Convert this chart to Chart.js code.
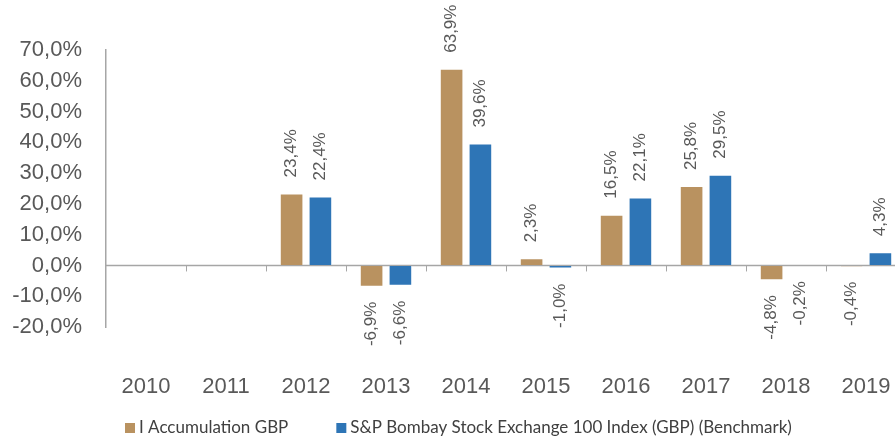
<!DOCTYPE html>
<html>
<head>
<meta charset="utf-8">
<script src="https://cdn.jsdelivr.net/npm/chart.js@4.4.0/dist/chart.umd.min.js"></script>
<style>
  html, body { margin: 0; padding: 0; background: #fff; overflow: hidden; }
  #wrap { position: relative; width: 910px; height: 439px; }
</style>
</head>
<body>
<div id="wrap"><canvas id="chart" width="910" height="439"></canvas></div>
<script>
// Data
const years = ["2010", "2011", "2012", "2013", "2014", "2015", "2016", "2017", "2018", "2019"];
const fundReturns = [null, null, 23.4, -6.9, 63.9, 2.3, 16.5, 25.8, -4.8, -0.4];
const benchReturns = [null, null, 22.4, -6.6, 39.6, -1.0, 22.1, 29.5, -0.2, 4.3];
const seriesNames = ["I Accumulation GBP", "S&P Bombay Stock Exchange 100 Index (GBP) (Benchmark)"];

const TAN = "#B99260";
const BLUE = "#2E75B6";
const GREY_TEXT = "#595959";
const AXIS = "#A6A6A6";

function pct(v) {
  return v.toFixed(1).replace(".", ",") + "%";
}

// zero line, small ticks between categories, rotated value labels, legend
const decorations = {
  id: "decorations",
  beforeDatasetsDraw(chart) {
    const { ctx, chartArea, scales } = chart;
    const y0 = scales.y.getPixelForValue(0);
    ctx.save();
    ctx.strokeStyle = AXIS;
    ctx.lineWidth = 1.5;
    ctx.beginPath();
    ctx.moveTo(chartArea.left, y0);
    ctx.lineTo(chartArea.right, y0);
    ctx.stroke();
    ctx.lineWidth = 1;
    for (let i = 1; i < years.length; i++) {
      const x = Math.round((scales.x.getPixelForValue(i - 1) + scales.x.getPixelForValue(i)) / 2) + 0.5;
      ctx.beginPath();
      ctx.moveTo(x, y0);
      ctx.lineTo(x, y0 + 6);
      ctx.stroke();
    }
    ctx.restore();
  },
  afterDatasetsDraw(chart) {
    const { ctx } = chart;
    ctx.save();
    ctx.font = "17px 'Liberation Sans', Arial, sans-serif";
    ctx.fillStyle = GREY_TEXT;
    ctx.textBaseline = "middle";
    chart.data.datasets.forEach((ds, di) => {
      chart.getDatasetMeta(di).data.forEach((bar, i) => {
        const v = ds.data[i];
        if (v === null || v === undefined) return;
        ctx.save();
        if (v >= 0) {
          ctx.translate(bar.x, bar.y - 16);
          ctx.rotate(-Math.PI / 2);
          ctx.textAlign = "left";
        } else {
          ctx.translate(bar.x, bar.y + 15);
          ctx.rotate(-Math.PI / 2);
          ctx.textAlign = "right";
        }
        ctx.fillText(pct(v), 0, 0);
        ctx.restore();
      });
    });
    ctx.restore();
  },
  afterDraw(chart) {
    // legend row under the axis labels
    const { ctx } = chart;
    ctx.save();
    ctx.font = "17px Lato, 'Open Sans', sans-serif";
    ctx.textBaseline = "middle";
    let x = 125;
    const y = 428;
    chart.data.datasets.forEach((ds) => {
      ctx.fillStyle = ds.backgroundColor;
      ctx.fillRect(x, y - 5, 10, 10);
      x += 14;
      ctx.fillStyle = "#404040";
      ctx.fillText(ds.label, x, y);
      x += ctx.measureText(ds.label).width + 48;
    });
    ctx.restore();
  },
};

const chart = new Chart(document.getElementById("chart"), {
  type: "bar",
  data: {
    labels: years,
    datasets: [
      {
        label: seriesNames[0],
        data: fundReturns,
        backgroundColor: TAN,
        borderColor: "rgba(255,255,255,0.55)",
        borderWidth: 1,
        categoryPercentage: 0.72,
        barPercentage: 0.82,
      },
      {
        label: seriesNames[1],
        data: benchReturns,
        backgroundColor: BLUE,
        borderColor: "rgba(255,255,255,0.55)",
        borderWidth: 1,
        categoryPercentage: 0.72,
        barPercentage: 0.82,
      },
    ],
  },
  options: {
    responsive: false,
    animation: false,
    layout: { padding: { top: 50, left: 0, right: 4, bottom: 40 } },
    plugins: {
      tooltip: { enabled: false },
      legend: { display: false },
    },
    scales: {
      x: {
        grid: { display: false },
        border: { display: false },
        ticks: {
          padding: 39,
          color: GREY_TEXT,
          font: { family: "'Liberation Sans', Arial, sans-serif", size: 22 },
          maxRotation: 0,
          autoSkip: false,
        },
        afterFit: (s) => {
          s.height = 72;
          s.paddingLeft = 0;
          s.paddingRight = 0;
        },
      },
      y: {
        min: -20,
        max: 70,
        ticks: {
          stepSize: 10,
          padding: 24,
          autoSkip: false,
          color: GREY_TEXT,
          font: { family: "'Liberation Sans', Arial, sans-serif", size: 22 },
          callback: (v) => pct(v),
        },
        grid: { drawOnChartArea: false, drawTicks: false },
        border: { color: AXIS, width: 1.5 },
        afterFit: (s) => { s.width = 106; },
      },
    },
  },
  plugins: [decorations],
});
</script>
</body>
</html>
